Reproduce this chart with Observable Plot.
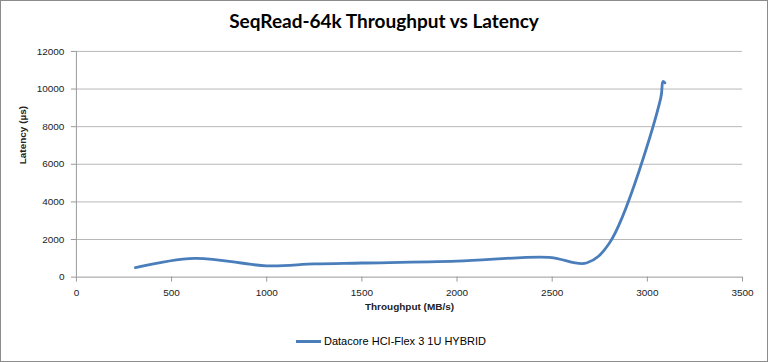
<!DOCTYPE html>
<html>
<head>
<meta charset="utf-8">
<script src="https://cdn.jsdelivr.net/npm/d3@7"></script>
<script src="https://cdn.jsdelivr.net/npm/@observablehq/plot@0.6"></script>
<style>
  html, body { margin: 0; padding: 0; background: #fff; }
  #wrap { position: relative; width: 768px; height: 362px; box-sizing: border-box; border: 1px solid #8c8c8c; overflow: hidden; font-family: "Liberation Sans", sans-serif; }
  #title { position: absolute; top: 8px; left: 0; width: 766px; text-align: center; font-family: Lato, sans-serif; font-weight: bold; font-size: 19px; color: #000; }
  #chart { position: absolute; top: -1px; left: -1px; }
  #legend { position: absolute; top: 334px; left: 295px; font-size: 11px; color: #000; display: flex; align-items: center; }
  #legend .sw { width: 25px; height: 3px; background: #4a7ebb; margin-right: 3px; }
</style>
</head>
<body>
<div id="wrap">
  <div id="title">SeqRead-64k Throughput vs Latency</div>
  <div id="chart"></div>
  <div id="legend"><span class="sw"></span><span>Datacore HCI-Flex 3 1U HYBRID</span></div>
</div>
<script>
const seriesName = "Datacore HCI-Flex 3 1U HYBRID";
const throughput = [310, 620, 1000, 1250, 1500, 2000, 2480, 2680, 2800, 3070, 3082, 3092];
const latency    = [500, 1000, 600, 700, 750, 850, 1050, 750, 1800, 9500, 10400, 10330];
const xTicks = [0, 500, 1000, 1500, 2000, 2500, 3000, 3500];
const yTicks = [0, 2000, 4000, 6000, 8000, 10000, 12000];

const data = throughput.map((t, i) => ({x: t, y: latency[i]}));

const chart = Plot.plot({
  width: 768,
  height: 327,
  marginLeft: 76,
  marginRight: 25,
  marginTop: 51,
  marginBottom: 50,
  style: {fontFamily: "Liberation Sans, sans-serif", fontSize: "10px", color: "#222", background: "transparent"},
  x: {domain: [0, 3500], ticks: xTicks, label: null},
  y: {domain: [0, 12000], ticks: yTicks, label: null},
  marks: [
    Plot.gridY(yTicks.filter(d => d > 0), {stroke: "#b8b8b8", strokeOpacity: 1, strokeWidth: 1}),
    Plot.ruleX([0], {stroke: "#999", strokeWidth: 1}),
    Plot.ruleY([0], {stroke: "#999", strokeWidth: 1}),
    Plot.axisY(yTicks, {tickSize: 5, stroke: "#999", tickPadding: 7, fontSize: 10, tickFormat: d => String(d)}),
    Plot.axisX(xTicks, {tickSize: 5, stroke: "#999", tickPadding: 7, fontSize: 10, tickFormat: d => String(d)}),
    Plot.text(["Latency (µs)"], {frameAnchor: "left", dx: -54, rotate: -90, fontWeight: "bold", fontSize: 10}),
    Plot.text(["Throughput (MB/s)"], {frameAnchor: "bottom", dy: 33, fontWeight: "bold", fontSize: 10}),
    Plot.line(data, {x: "x", y: "y", stroke: "#4a7ebb", strokeWidth: 2.8, curve: "catmull-rom"})
  ]
});
document.getElementById("chart").appendChild(chart);
</script>
</body>
</html>
